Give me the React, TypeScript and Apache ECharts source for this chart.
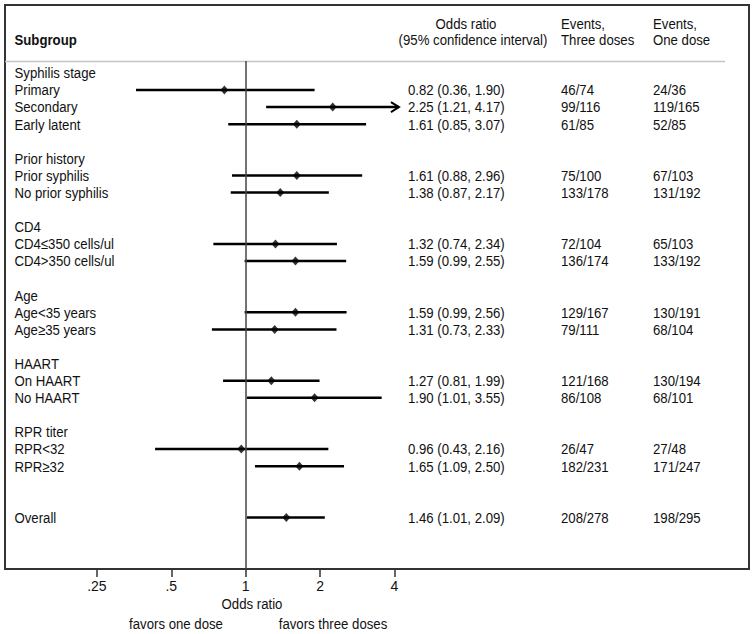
import React, { useEffect, useRef } from "react";
import * as echarts from "echarts";

const FONT = '"Liberation Sans", Arial, Helvetica, sans-serif';
const FS = 15;
const SX = 0.88;

// Group headers and their row slots
const groupHeaders = ["Syphilis stage", "Prior history", "CD4", "Age", "HAART", "RPR titer"];
const groupRows = [0, 5, 9, 13, 17, 21];

// Subgroups
const subgroups = [
  "Primary", "Secondary", "Early latent",
  "Prior syphilis", "No prior syphilis",
  "CD4≤350 cells/ul", "CD4>350 cells/ul",
  "Age<35 years", "Age≥35 years",
  "On HAART", "No HAART",
  "RPR<32", "RPR≥32",
  "Overall",
];
const subgroupRows = [1, 2, 3, 6, 7, 10, 11, 14, 15, 18, 19, 22, 23, 26];

const oddsRatio = [0.82, 2.25, 1.61, 1.61, 1.38, 1.32, 1.59, 1.59, 1.31, 1.27, 1.90, 0.96, 1.65, 1.46];
const ciLow = [0.36, 1.21, 0.85, 0.88, 0.87, 0.74, 0.99, 0.99, 0.73, 0.81, 1.01, 0.43, 1.09, 1.01];
const ciHigh = [1.90, 4.17, 3.07, 2.96, 2.17, 2.34, 2.55, 2.56, 2.33, 1.99, 3.55, 2.16, 2.50, 2.09];
const arrowFlags = [0, 1, 0, 0, 0, 0, 0, 0, 0, 0, 0, 0, 0, 0];

const eventsThree = ["46/74", "99/116", "61/85", "75/100", "133/178", "72/104", "136/174", "129/167", "79/111", "121/168", "86/108", "26/47", "182/231", "208/278"];
const eventsOne = ["24/36", "119/165", "52/85", "67/103", "131/192", "65/103", "133/192", "130/191", "68/104", "130/194", "68/101", "27/48", "171/247", "198/295"];

const tickValues = [0.25, 0.5, 1, 2, 4];
const tickLabels = [".25", ".5", "1", "2", "4"];

const fmt = (v: number) => v.toFixed(2);

export default function App() {
  const ref = useRef<HTMLDivElement>(null);
  useEffect(() => {
    if (!ref.current) return;
    const chart = echarts.init(ref.current, null, { renderer: "svg" });

    const textStyle = { fill: "#111", fontSize: FS, fontFamily: FONT };

    const colText = (colX: number, rowsArr: number[], texts: string[]) => ({
      type: "custom",
      xAxisIndex: 1,
      yAxisIndex: 0,
      silent: true,
      clip: false,
      z: 5,
      data: rowsArr.map((r) => [colX, r]),
      renderItem: (params: any, api: any) => {
        const p = api.coord([api.value(0), api.value(1)]);
        return {
          type: "text",
          x: p[0],
          y: p[1],
          scaleX: SX,
          style: { text: texts[params.dataIndex], ...textStyle, align: "left", verticalAlign: "middle" },
        };
      },
    });

    const orTexts = oddsRatio.map((v, i) => `${fmt(v)} (${fmt(ciLow[i])}, ${fmt(ciHigh[i])})`);

    const gText = (text: string, x: number, y: number, align: string, extra: any = {}) => ({
      type: "text",
      x,
      y,
      scaleX: SX,
      silent: true,
      style: { text, ...textStyle, align, verticalAlign: "middle", ...extra },
    });

    const option: any = {
      animation: false,
      grid: { left: 5, right: 6, top: 61, bottom: 65, show: false },
      xAxis: [
        {
          type: "value",
          min: -3.235,
          max: 6.765,
          axisLine: { show: true, onZero: false, lineStyle: { color: "#333", width: 2 } },
          axisTick: {
            show: true,
            length: 8,
            customValues: tickValues.map((v) => Math.log2(v)),
            lineStyle: { color: "#333", width: 1.5 },
          },
          axisLabel: {
            show: true,
            margin: 10,
            customValues: tickValues.map((v) => Math.log2(v)),
            formatter: (v: number) => {
              const idx = tickValues.findIndex((t) => Math.abs(Math.log2(t) - v) < 1e-6);
              return idx >= 0 ? tickLabels[idx] : "";
            },
            color: "#111",
            fontSize: 14,
            fontFamily: FONT,
          },
          splitLine: { show: false },
        },
        {
          type: "value",
          min: 0,
          max: 744,
          show: false,
          position: "top",
        },
      ],
      yAxis: [
        {
          type: "value",
          inverse: true,
          min: -0.696,
          max: 29.01,
          show: false,
        },
      ],
      graphic: [
        {
          type: "rect",
          shape: { x: 5, y: 5, width: 744, height: 564 },
          style: { fill: "none", stroke: "#333", lineWidth: 2 },
          silent: true,
        },
        {
          type: "line",
          shape: { x1: 5, y1: 61.5, x2: 725, y2: 61.5 },
          style: { stroke: "#c4c4c4", lineWidth: 1.5 },
          silent: true,
        },
        gText("Subgroup", 14.5, 39.5, "left", { fontWeight: "bold" }),
        gText("Odds ratio", 466, 23.5, "center"),
        gText("(95% confidence interval)", 473, 39.5, "center"),
        gText("Events,", 561, 23.5, "left"),
        gText("Three doses", 561, 39.5, "left"),
        gText("Events,", 653, 23.5, "left"),
        gText("One dose", 653, 39.5, "left"),
        gText("Odds ratio", 252, 604, "center"),
        gText("favors one dose", 176, 624, "center"),
        gText("favors three doses", 333, 624, "center"),
      ],
      series: [
        {
          type: "custom",
          xAxisIndex: 0,
          yAxisIndex: 0,
          clip: false,
          silent: true,
          data: subgroupRows.map((r, i) => [Math.log2(ciLow[i]), Math.log2(ciHigh[i]), r, arrowFlags[i]]),
          renderItem: (params: any, api: any) => {
            const p1 = api.coord([api.value(0), api.value(2)]);
            const p2 = api.coord([api.value(1), api.value(2)]);
            const children: any[] = [
              {
                type: "line",
                shape: { x1: p1[0], y1: p1[1], x2: p2[0], y2: p2[1] },
                style: { stroke: "#000", lineWidth: 2.5 },
              },
            ];
            if (api.value(3) === 1) {
              children.push({
                type: "polyline",
                shape: { points: [[p2[0] - 8, p2[1] - 5], [p2[0], p2[1]], [p2[0] - 8, p2[1] + 5]] },
                style: { stroke: "#000", lineWidth: 2, fill: "none" },
              });
            }
            return { type: "group", children };
          },
          markLine: {
            silent: true,
            symbol: ["none", "none"],
            label: { show: false },
            lineStyle: { color: "#444", width: 1.5, type: "solid" },
            data: [{ xAxis: 0 }],
          },
          z: 2,
        },
        {
          type: "scatter",
          xAxisIndex: 0,
          yAxisIndex: 0,
          symbol: "diamond",
          symbolSize: [8, 9],
          itemStyle: { color: "#000" },
          silent: true,
          data: subgroupRows.map((r, i) => [Math.log2(oddsRatio[i]), r]),
          z: 3,
        },
        colText(9.5, groupRows, groupHeaders),
        colText(9.5, subgroupRows, subgroups),
        colText(403, subgroupRows, orTexts),
        colText(556, subgroupRows, eventsThree),
        colText(648, subgroupRows, eventsOne),
      ],
    };
    chart.setOption(option);
    return () => chart.dispose();
  }, []);
  return (
    <div
      ref={ref}
      style={{ position: "absolute", left: 0, top: 0, width: 755, height: 634, background: "#fff" }}
    />
  );
}
